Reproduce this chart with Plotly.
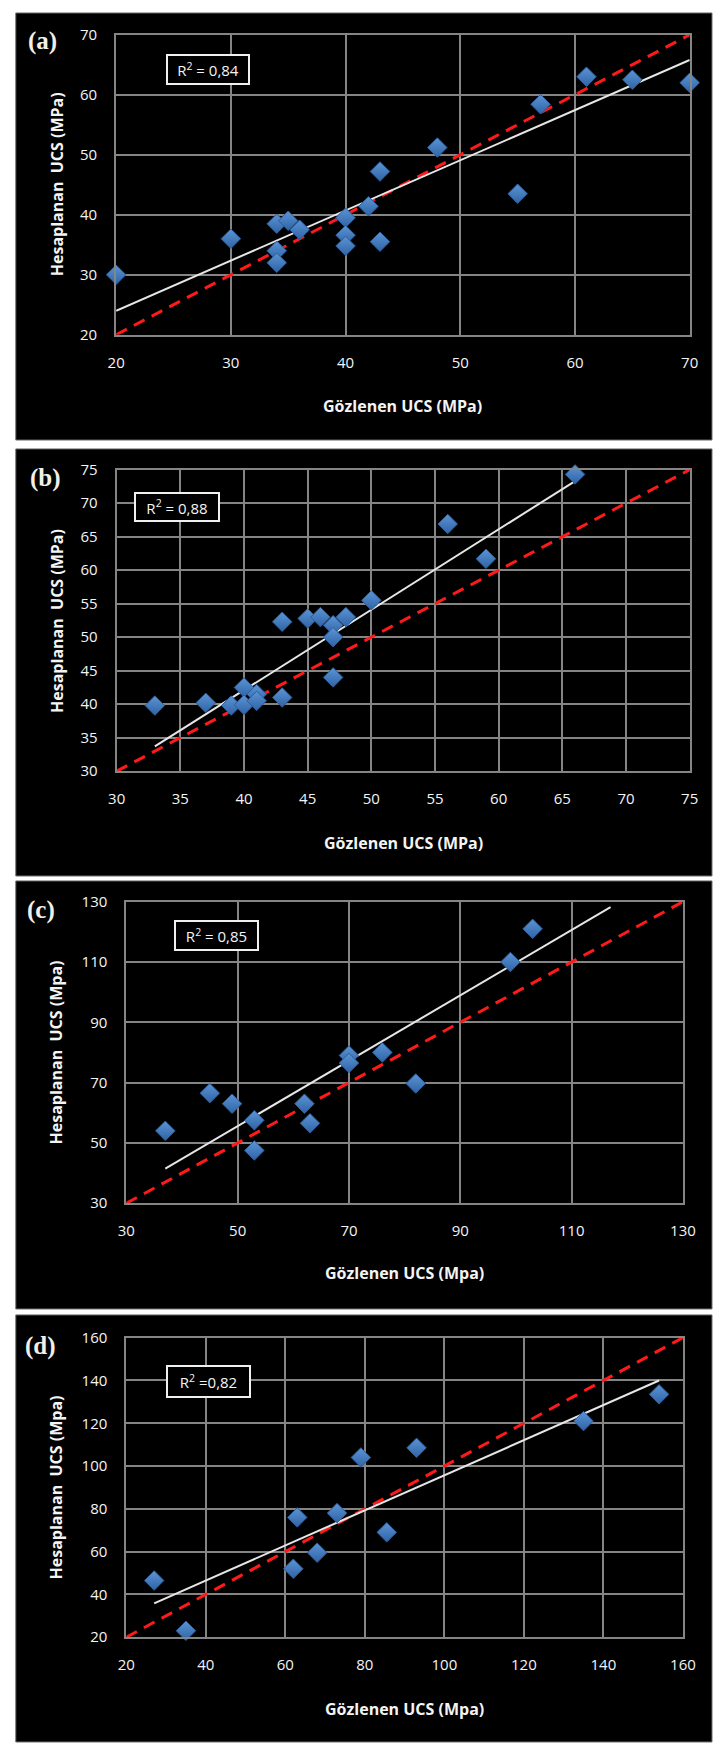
import plotly.graph_objects as go

W, H = 725, 1751

# Observed (Gözlenen) vs. calculated (Hesaplanan) UCS values, one pair of lists per panel
obs_a = [20, 30, 34, 35, 36, 34, 34, 40, 40, 40, 42, 43, 43, 48, 55, 57, 61, 65, 70]
calc_a = [30, 36, 38.5, 39, 37.5, 34, 32, 39.5, 36.6, 34.8, 41.4, 47.2, 35.5, 51.2, 43.5, 58.4, 63, 62.5, 62]

obs_b = [33, 37, 39, 40, 40, 41, 41, 43, 43, 45, 46, 47, 47, 47, 48, 50, 56, 59, 66]
calc_b = [39.8, 40.2, 39.8, 42.5, 39.9, 41.5, 40.5, 52.3, 41, 52.8, 53, 51.8, 50, 44, 53, 55.5, 66.9, 61.7, 74.3]

obs_c = [37, 45, 49, 53, 53, 62, 63, 70, 70, 76, 82, 99, 103]
calc_c = [54, 66.5, 63, 57.5, 47.5, 63, 56.5, 79, 76.5, 80, 69.7, 110, 121]

obs_d = [27, 35, 62, 63, 68, 73, 79, 85.5, 93, 135, 154]
calc_d = [46.5, 23, 52, 76, 59.5, 78, 104, 69, 108.5, 121, 133.5]

# Axis ranges and tick steps (same for both axes of a panel)
axis_range_a, tick_step_a = [20, 70], 10
axis_range_b, tick_step_b = [30, 75], 5
axis_range_c, tick_step_c = [30, 130], 20
axis_range_d, tick_step_d = [20, 160], 20

# Linear trend lines: slope, intercept and the x span they cover
trend_a = {"slope": 0.836, "intercept": 7.28, "x": [20, 70]}
trend_b = {"slope": 1.20, "intercept": -5.9, "x": [33, 66]}
trend_c = {"slope": 1.084, "intercept": 1.38, "x": [37, 117]}
trend_d = {"slope": 0.82, "intercept": 13.7, "x": [27, 154]}

r2_labels = ["R<sup>2</sup> = 0,84", "R<sup>2</sup> = 0,88", "R<sup>2</sup> = 0,85", "R<sup>2</sup> =0,82"]
panel_letters = ["(a)", "(b)", "(c)", "(d)"]
x_titles = ["Gözlenen UCS (MPa)", "Gözlenen UCS (MPa)", "Gözlenen UCS (Mpa)", "Gözlenen UCS (Mpa)"]
y_titles = ["Hesaplanan\u00a0\u00a0UCS (MPa)", "Hesaplanan\u00a0\u00a0UCS (MPa)",
            "Hesaplanan\u00a0\u00a0UCS (Mpa)", "Hesaplanan\u00a0\u00a0UCS (Mpa)"]

# Page geometry in pixels
panels = [
    dict(obs=obs_a, calc=calc_a, rng=axis_range_a, step=tick_step_a, trend=trend_a,
         plot=(110.5, 702, 24, 327.5), box=(7, 725, 2, 434),
         letter=(35, 30), r2=(162, 44, 84, 31), xt_y=400, yt_x=49),
    dict(obs=obs_b, calc=calc_b, rng=axis_range_b, step=tick_step_b, trend=trend_b,
         plot=(111, 702, 464, 769), box=(7, 725, 443, 875),
         letter=(38, 472), r2=(129, 487, 86, 30), xt_y=842, yt_x=50),
    dict(obs=obs_c, calc=calc_c, rng=axis_range_c, step=tick_step_c, trend=trend_c,
         plot=(121, 695, 901, 1206), box=(7, 725, 880, 1313),
         letter=(33, 909), r2=(170, 920, 85, 31), xt_y=1277, yt_x=48.5),
    dict(obs=obs_d, calc=calc_d, rng=axis_range_d, step=tick_step_d, trend=trend_d,
         plot=(121, 695, 1342, 1645), box=(7, 725, 1319, 1751),
         letter=(33, 1350), r2=(162, 1370, 85, 33), xt_y=1718, yt_x=48.5),
]


def px(x):
    return x / W


def py(y):
    return 1 - y / H


TEXT = "#f4f4f4"
GRID = "#858585"
TICK_FONT = dict(family="Open Sans", size=15, color=TEXT)
TITLE_FONT = dict(family="Open Sans", size=16, color=TEXT, weight="bold")

fig = go.Figure()
shapes, annotations = [], []

for i, p in enumerate(panels):
    n = "" if i == 0 else str(i + 1)
    xa, ya = "x" + n, "y" + n
    x0, x1, y0, y1 = p["plot"]
    lo, hi = p["rng"]

    # 1:1 reference line across the full axis range
    fig.add_trace(go.Scatter(x=[lo, hi], y=[lo, hi], mode="lines", xaxis=xa, yaxis=ya,
                             line=dict(color="#ff1a1a", width=3, dash="12px,8px"),
                             hoverinfo="skip", showlegend=False))
    # trend line
    t = p["trend"]
    tx = t["x"]
    ty = [t["slope"] * v + t["intercept"] for v in tx]
    fig.add_trace(go.Scatter(x=tx, y=ty, mode="lines", xaxis=xa, yaxis=ya,
                             line=dict(color="#e6e6e6", width=2), cliponaxis=False,
                             hoverinfo="skip", showlegend=False))
    # observations
    fig.add_trace(go.Scatter(x=p["obs"], y=p["calc"], mode="markers", xaxis=xa, yaxis=ya,
                             cliponaxis=False,
                             marker=dict(symbol="diamond", size=15, color="#5b94d6",
                                         gradient=dict(type="vertical", color="#2f64a6"),
                                         line=dict(color="#2d5d99", width=1)),
                             showlegend=False))

    # major ticks are invisible (zero width) and only push the labels outwards;
    # the short visible ticks are drawn as minor ticks at the same positions
    minor = dict(ticks="outside", ticklen=5, tickwidth=2, tickcolor=GRID,
                 tick0=lo, dtick=p["step"], showgrid=False)
    axis_common = dict(range=[lo, hi], tick0=lo, dtick=p["step"], showgrid=True,
                       gridcolor=GRID, gridwidth=2, zeroline=False, showline=True,
                       linecolor=GRID, linewidth=2, mirror=True, ticks="outside",
                       tickwidth=0, tickcolor="rgba(0,0,0,0)", tickfont=TICK_FONT,
                       minor=minor)
    fig.layout["xaxis" + n] = dict(axis_common, domain=[px(x0), px(x1)], anchor=ya,
                                   ticklen=13)
    fig.layout["yaxis" + n] = dict(axis_common, domain=[py(y1), py(y0)], anchor=xa,
                                   ticklen=14)

    bx0, bx1, by0, by1 = p["box"]
    shapes.append(dict(type="rect", xref="paper", yref="paper", layer="below",
                       x0=px(bx0), x1=px(bx1), y0=py(by1), y1=py(by0),
                       fillcolor="#000000", line=dict(color="#6e6e6e", width=1)))

    lx, ly = p["letter"]
    annotations.append(dict(text="<b>%s</b>" % panel_letters[i], xref="paper", yref="paper",
                            x=px(lx), y=py(ly), xanchor="center", yanchor="middle",
                            showarrow=False,
                            font=dict(family="Liberation Serif", size=25, color="#f2efe8")))

    rx, ry, rw, rh = p["r2"]
    annotations.append(dict(text=r2_labels[i], xref="paper", yref="paper",
                            x=px(rx), y=py(ry), xanchor="left", yanchor="top",
                            showarrow=False, width=rw - 4, height=rh - 4,
                            bgcolor="#000000", bordercolor="#f0f0f0", borderwidth=2,
                            borderpad=0, align="center", valign="middle",
                            font=dict(family="Open Sans", size=15, color=TEXT)))

    annotations.append(dict(text=x_titles[i], xref="paper", yref="paper",
                            x=px((x0 + x1) / 2), y=py(p["xt_y"]),
                            xanchor="center", yanchor="middle", showarrow=False,
                            font=TITLE_FONT))
    annotations.append(dict(text=y_titles[i], xref="paper", yref="paper",
                            x=px(p["yt_x"]), y=py((y0 + y1) / 2), textangle=-90,
                            xanchor="center", yanchor="middle", showarrow=False,
                            font=TITLE_FONT))

fig.update_layout(width=W, height=H, margin=dict(l=0, r=0, t=0, b=0),
                  paper_bgcolor="#ffffff", plot_bgcolor="#404040",
                  shapes=shapes, annotations=annotations, showlegend=False)

fig.write_html("out.html")
